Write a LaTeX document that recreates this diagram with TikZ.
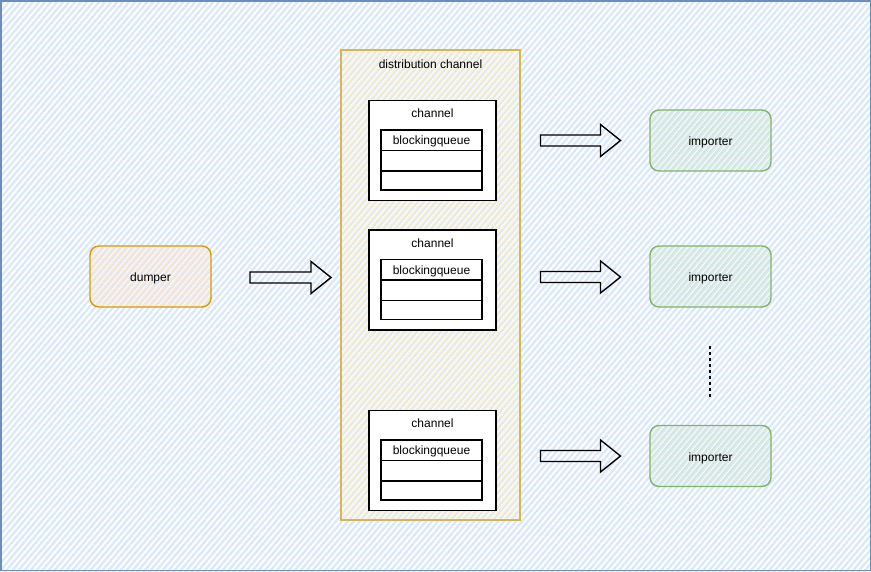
\documentclass[tikz,border=0pt]{standalone}
\usepackage{fontspec}
\setmainfont{Liberation Sans}
\usetikzlibrary{patterns.meta,calc}
\definecolor{bgblue}{HTML}{DAE8FC}
\definecolor{bgborder}{HTML}{6C8EBF}
\definecolor{ylfill}{HTML}{FFF2CC}
\definecolor{ylborder}{HTML}{D6B656}
\definecolor{orfill}{HTML}{FFE6CC}
\definecolor{orborder}{HTML}{D79B00}
\definecolor{grfill}{HTML}{D5E8D4}
\definecolor{grborder}{HTML}{82B366}
\newcommand\blockarr[2]{%
  \draw[barrow] ($(#1)+(0,-5.5)$) -- ($(#2)+(-20,-5.5)$) -- ($(#2)+(-20,-16)$) -- (#2)
    -- ($(#2)+(-20,16)$) -- ($(#2)+(-20,5.5)$) -- ($(#1)+(0,5.5)$) -- cycle;}
\begin{document}
\begin{tikzpicture}[x=1pt,y=-1pt,
  font=\fontsize{12}{14}\selectfont,
  txt/.style={text height=10pt,text depth=0pt},
  hatch/.style={pattern={Lines[angle=50,distance=4.6pt,line width=2.3pt]}},
  hatchb/.style={pattern={Lines[angle=50,distance=4.6pt,line width=1.8pt,yshift=2.3pt]}},
  distbox/.style={draw=ylborder,line width=1.3pt,hatchb,pattern color=ylfill,
    minimum width=179pt,minimum height=470pt,inner sep=0pt},
  chbox/.style={draw=black,fill=white,line width=1.4pt,minimum width=127pt,
    minimum height=100pt,inner sep=0pt},
  qbox/.style={draw=black,line width=1.4pt,minimum width=101pt,minimum height=60pt,inner sep=0pt},
  qline/.style={draw=black,line width=1.4pt},
  dumpbox/.style={draw=orborder,line width=1.4pt,rounded corners=9pt,hatchb,pattern color=orfill,
    minimum width=121pt,minimum height=61pt,inner sep=0pt,txt},
  impbox/.style={draw=grborder,line width=1.4pt,rounded corners=9pt,hatchb,pattern color=grfill,
    minimum width=121pt,minimum height=61pt,inner sep=0pt,txt},
  barrow/.style={draw=black,line width=1.4pt,line join=miter},
  dots/.style={draw=black,line width=2pt,dash pattern=on 3pt off 3pt}
]
\useasboundingbox (0,0) rectangle (871,571);
\fill[white] (0,0) rectangle (871,571);
\fill[hatch,pattern color=bgblue] (0,0) rectangle (871,571);
\draw[bgborder,line width=1.5pt] (0.75,0.75) rectangle (870.25,570.25);

% distribution channel
\node[distbox] (dist) at (430.5,285) {};
\node[txt] (distl) at ($(dist.north)+(0,14)$) {distribution channel};

% channels
\foreach \n/\y in {1/150.5,2/280,3/460.5}{
  \node[chbox] (ch\n) at (432.5,\y) {};
  \node[txt] (chl\n) at ($(ch\n.north)+(0,13)$) {channel};
  \node[qbox] (q\n) at ($(ch\n.center)+(-1,9.5)$) {};
  \draw[qline] ($(q\n.north west)+(0,21)$) -- ($(q\n.north east)+(0,21)$);
  \draw[qline] ($(q\n.north west)+(0,41.5)$) -- ($(q\n.north east)+(0,41.5)$);
  \node[txt] (ql\n) at ($(q\n.north)+(0,10.5)$) {blockingqueue};
}

% dumper
\node[dumpbox] (dump) at (150.5,276.5) {dumper};

% importers
\node[impbox] (imp1) at (710.5,140.5) {importer};
\node[impbox] (imp2) at (710.5,276.5) {importer};
\node[impbox] (imp3) at (710.5,456) {importer};

% block arrows
\coordinate (a0s) at (250,277.5);
\coordinate (a0e) at (331,277.5);
\blockarr{a0s}{a0e}
\coordinate (a1s) at (540.5,140.5);
\coordinate (a1e) at (620.5,140.5);
\blockarr{a1s}{a1e}
\coordinate (a2s) at (540.5,277);
\coordinate (a2e) at (620.5,277);
\blockarr{a2s}{a2e}
\coordinate (a3s) at (540.5,456);
\coordinate (a3e) at (620.5,456);
\blockarr{a3s}{a3e}

% dots
\coordinate (d1) at (710,346);
\coordinate (d2) at (710,397);
\draw[dots] (d1) -- (d2);
\end{tikzpicture}
\end{document}
